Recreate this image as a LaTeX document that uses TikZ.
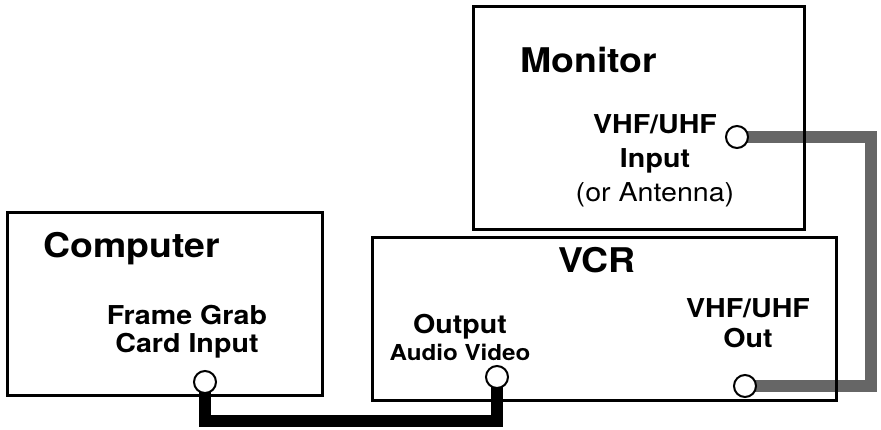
\documentclass[tikz,border=0pt]{standalone}
\usepackage{fontspec}
\setmainfont{TeX Gyre Heros}[FakeStretch=1.1]
\usetikzlibrary{backgrounds}
\tikzset{
  device/.style={draw, line width=3pt, inner sep=0pt},
  title/.style={font=\bfseries\fontsize{34}{40}\selectfont, inner sep=0pt},
  portlabel/.style={font=\bfseries\fontsize{26}{30}\selectfont, align=center, inner sep=0pt},
  jack/.style={circle, draw, fill=white, line width=2pt, minimum size=22pt, inner sep=0pt},
  cable/.style={line width=12pt},
  rfcable/.style={cable, draw=black!60}
}
\begin{document}
\begin{tikzpicture}[x=1pt,y=-1pt]
  \useasboundingbox (0,0) rectangle (881,429);
  \node[device, minimum width=315pt, minimum height=183pt] (computer) at (164.5,303.5) {};
  \node[device, minimum width=331pt, minimum height=223pt] (monitor) at (638.5,117.5) {};
  \node[device, minimum width=464pt, minimum height=163pt] (vcr) at (604,318.5) {};
  \node[title, anchor=base west] (computertitle) at (43,257) {Computer};
  \node[title, anchor=base west] (monitortitle) at (520,72) {Monitor};
  \node[title, anchor=base] (vcrtitle) at (597,272) {VCR};
  \node[portlabel, anchor=base] (fglabel) at (187,352) {Frame Grab\\[-2pt]Card Input};
  \node[portlabel, anchor=base] (avlabel) at (460,360) {Output\\[-3pt]{\fontsize{22}{26}\selectfont Audio Video}};
  \node[portlabel, anchor=base] (rfinlabel) at (655,201)
    {VHF/UHF\\[4pt]Input\\[4pt]{\mdseries (or Antenna)}};
  \node[portlabel, anchor=base] (rfoutlabel) at (748,347) {VHF/UHF\\[0pt]Out};
  \node[jack] (fgin) at (205,382) {};
  \node[jack] (avout) at (497,377) {};
  \node[jack] (rfin) at (737,137) {};
  \node[jack] (rfout) at (745,386) {};
  \coordinate (vidbend) at (205,421);
  \coordinate (rfbend) at (871,137);
  \begin{pgfonlayer}{background}
    \draw[cable] (fgin.center) -- (vidbend) -| (avout.center);
    \draw[rfcable] (rfin.center) -- (rfbend) |- (rfout.center);
  \end{pgfonlayer}
\end{tikzpicture}
\end{document}
